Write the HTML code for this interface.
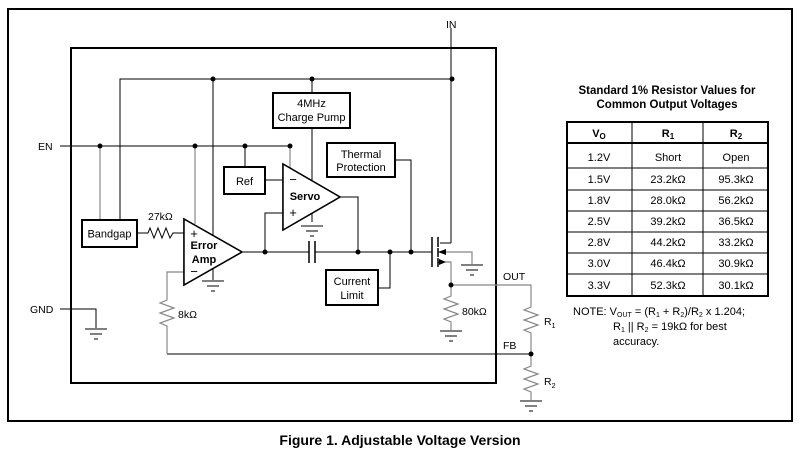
<!DOCTYPE html>
<html><head><meta charset="utf-8"><style>
html,body{margin:0;padding:0;background:#fff;}
svg{display:block;font-family:"Liberation Sans",Arial,sans-serif;}
</style></head><body>
<svg width="800" height="455" viewBox="0 0 800 455" xmlns="http://www.w3.org/2000/svg">
<defs>
<g id="gnd"><line x1="-11" y1="0" x2="11" y2="0" stroke="#000" stroke-width="1"/><line x1="-6" y1="5" x2="6" y2="5" stroke="#000"/><line x1="-2" y1="10" x2="2" y2="10" stroke="#000"/></g>
</defs>
<rect x="8" y="9" width="784" height="412" fill="none" stroke="#000" stroke-width="2"/>
<rect x="71" y="48" width="425" height="335" fill="none" stroke="#000" stroke-width="2"/>

<g stroke="#000" stroke-width="1" fill="none">
<!-- supply line -->
<polyline points="120,220 120,79 452,79"/>
<line x1="451" y1="28" x2="451" y2="243"/>
<line x1="451" y1="243" x2="440" y2="243"/>
<line x1="213" y1="79" x2="213" y2="280"/>
<line x1="312" y1="79" x2="312" y2="93"/>
<line x1="312" y1="128" x2="312" y2="222"/>
<!-- EN -->
<line x1="60" y1="146" x2="291" y2="146"/>
<line x1="245" y1="146" x2="245" y2="167"/>
<line x1="265" y1="180" x2="283" y2="180"/>
<!-- error amp in -->
<polyline points="137,233 148,233 150,228 154,238 158,228 162,238 166,228 170,238 173,233 184,233"/>
<!-- output bus -->
<line x1="242" y1="252" x2="309" y2="252"/>
<line x1="315" y1="252" x2="432" y2="252"/>
<line x1="309" y1="241" x2="309" y2="263" stroke-width="1.5"/>
<line x1="315" y1="241" x2="315" y2="263" stroke-width="1.5"/>
<polyline points="283,213 265,213 265,252"/>
<polyline points="340,197 358,197 358,252"/>
<polyline points="395,160 411,160 411,252"/>
<polyline points="378,288 390,288 390,252"/>
<!-- FET -->
<line x1="432" y1="237" x2="432" y2="267" stroke-width="1.5"/>
<line x1="438" y1="237" x2="438" y2="247" stroke-width="1.5"/>
<line x1="438" y1="248" x2="438" y2="257" stroke-width="1.5"/>
<line x1="438" y1="258" x2="438" y2="267" stroke-width="1.5"/>
<line x1="438" y1="252" x2="445" y2="252"/>
<line x1="438" y1="262" x2="445" y2="262"/>
<!-- GND -->
<polyline points="60,309 96,309 96,328"/>
<!-- FB line -->
<line x1="167" y1="354" x2="531" y2="354"/>
</g>
<g stroke="#888" stroke-width="1.2" fill="none">
<line x1="100" y1="146" x2="100" y2="220"/>
<line x1="195" y1="146" x2="195" y2="224"/>
<line x1="290" y1="146" x2="290" y2="168"/>
<polyline points="184,272 167,272 167,300 160,303 174,308 160,313 174,318 160,323 167,326 167,354"/>
<polyline points="445,252 472,252 472,264"/>
<polyline points="445,262 451,262 451,296 444,299 458,304 444,309 458,314 444,319 451,322 451,330"/>
<polyline points="451,285 531,285 531,307 524,310 538,315 524,320 538,325 524,330 531,333 531,366 524,369 538,374 524,379 538,384 524,389 531,392 531,400"/>
</g>
<polygon points="438,252 446,249 446,255" fill="#000"/>
<polygon points="446,262 439,259 439,265" fill="#000"/>
<g>
<use href="#gnd" x="213" y="281"/>
<use href="#gnd" x="312" y="226"/>
<use href="#gnd" x="472" y="265"/>
<use href="#gnd" x="96" y="329"/>
<use href="#gnd" x="451" y="331"/>
<use href="#gnd" x="531" y="401"/>
</g>
<g fill="#000">
<circle cx="213" cy="79" r="2.5"/><circle cx="312" cy="79" r="2.5"/><circle cx="452" cy="79" r="2.5"/>
<circle cx="100" cy="146" r="2.5"/><circle cx="195" cy="146" r="2.5"/><circle cx="245" cy="146" r="2.5"/><circle cx="290" cy="146" r="2.5"/>
<circle cx="265" cy="252" r="2.5"/><circle cx="358" cy="252" r="2.5"/><circle cx="390" cy="252" r="2.5"/><circle cx="411" cy="252" r="2.5"/>
<circle cx="451" cy="285" r="2.5"/><circle cx="531" cy="354" r="2.5"/>
</g>
<!-- amps -->
<polygon points="184,219 184,285 242,252" fill="#fff" stroke="#000" stroke-width="1.5"/>
<polygon points="283,164 283,230 340,197" fill="#fff" stroke="#000" stroke-width="1.5"/>
<line x1="213" y1="240" x2="213" y2="280" stroke="#000"/>
<line x1="312" y1="183" x2="312" y2="222" stroke="#000"/>
<polygon points="184,219 184,285 242,252" fill="#fff" stroke="#000" stroke-width="1.5"/>
<polygon points="283,164 283,230 340,197" fill="#fff" stroke="#000" stroke-width="1.5"/>
<!-- boxes -->
<g fill="#fff" stroke="#000" stroke-width="2">
<rect x="82" y="220" width="55" height="27"/>
<rect x="224" y="167" width="41" height="27"/>
<rect x="273" y="93" width="77" height="35"/>
<rect x="327" y="143" width="68" height="34"/>
<rect x="326" y="270" width="52" height="35"/>
</g>
<g font-size="11" fill="#000" text-anchor="middle">
<text x="109.5" y="237.5">Bandgap</text>
<text x="244.5" y="185">Ref</text>
<text x="311.5" y="107">4MHz</text>
<text x="311.5" y="121">Charge Pump</text>
<text x="361" y="158">Thermal</text>
<text x="361" y="171">Protection</text>
<text x="352" y="285">Current</text>
<text x="352" y="299">Limit</text>
<text x="204" y="249" font-weight="bold">Error</text>
<text x="204" y="263" font-weight="bold">Amp</text>
<text x="305" y="200" font-weight="bold">Servo</text>
<text x="194" y="238" font-size="13">+</text>
<text x="194" y="276" font-size="13">−</text>
<text x="293" y="184" font-size="13">−</text>
<text x="293" y="217" font-size="13">+</text>
</g>
<g font-size="10.5" fill="#000">
<text x="148" y="220">27kΩ</text>
<text x="178" y="318">8kΩ</text>
<text x="462" y="315">80kΩ</text>
<text x="38" y="150">EN</text>
<text x="30" y="313">GND</text>
<text x="446" y="28">IN</text>
<text x="503" y="280">OUT</text>
<text x="503" y="349">FB</text>
<text x="544" y="325">R<tspan font-size="7" dy="3">1</tspan></text>
<text x="544" y="385">R<tspan font-size="7" dy="3">2</tspan></text>
</g>
<!-- table -->
<g font-size="11.5" fill="#000" text-anchor="middle">
<text x="667" y="94" font-weight="bold">Standard 1% Resistor Values for</text>
<text x="667" y="108" font-weight="bold">Common Output Voltages</text>
</g>
<rect x="567" y="122" width="201" height="174" fill="none" stroke="#000" stroke-width="2"/>
<g stroke="#000" stroke-width="1">
<line x1="632" y1="122" x2="632" y2="296"/>
<line x1="703" y1="122" x2="703" y2="296"/>
<line x1="567" y1="143" x2="768" y2="143" stroke-width="2"/>
<line x1="567" y1="168" x2="768" y2="168"/>
<line x1="567" y1="190" x2="768" y2="190"/>
<line x1="567" y1="211" x2="768" y2="211"/>
<line x1="567" y1="232" x2="768" y2="232"/>
<line x1="567" y1="253" x2="768" y2="253"/>
<line x1="567" y1="274" x2="768" y2="274"/>
</g>
<g font-size="11" fill="#000" text-anchor="middle">
<text x="599" y="137" font-weight="bold">V<tspan font-size="8" dy="2">O</tspan></text>
<text x="668" y="137" font-weight="bold">R<tspan font-size="8" dy="2">1</tspan></text>
<text x="736" y="137" font-weight="bold">R<tspan font-size="8" dy="2">2</tspan></text>
<text x="599" y="161">1.2V</text><text x="668" y="161">Short</text><text x="736" y="161">Open</text>
<text x="599" y="183">1.5V</text><text x="668" y="183">23.2kΩ</text><text x="736" y="183">95.3kΩ</text>
<text x="599" y="204">1.8V</text><text x="668" y="204">28.0kΩ</text><text x="736" y="204">56.2kΩ</text>
<text x="599" y="225">2.5V</text><text x="668" y="225">39.2kΩ</text><text x="736" y="225">36.5kΩ</text>
<text x="599" y="246">2.8V</text><text x="668" y="246">44.2kΩ</text><text x="736" y="246">33.2kΩ</text>
<text x="599" y="267">3.0V</text><text x="668" y="267">46.4kΩ</text><text x="736" y="267">30.9kΩ</text>
<text x="599" y="289">3.3V</text><text x="668" y="289">52.3kΩ</text><text x="736" y="289">30.1kΩ</text>
</g>
<g font-size="11" fill="#000">
<text x="573" y="315">NOTE: V<tspan font-size="7" dy="2">OUT</tspan><tspan dy="-2"> = (R</tspan><tspan font-size="7" dy="2">1</tspan><tspan dy="-2"> + R</tspan><tspan font-size="7" dy="2">2</tspan><tspan dy="-2">)/R</tspan><tspan font-size="7" dy="2">2</tspan><tspan dy="-2"> x 1.204;</tspan></text>
<text x="613" y="330">R<tspan font-size="7" dy="2">1</tspan><tspan dy="-2"> || R</tspan><tspan font-size="7" dy="2">2</tspan><tspan dy="-2"> = 19kΩ for best</tspan></text>
<text x="613" y="345">accuracy.</text>
</g>
<text x="400" y="445" font-size="14" font-weight="bold" text-anchor="middle">Figure 1. Adjustable Voltage Version</text>
</svg>
</body></html>
